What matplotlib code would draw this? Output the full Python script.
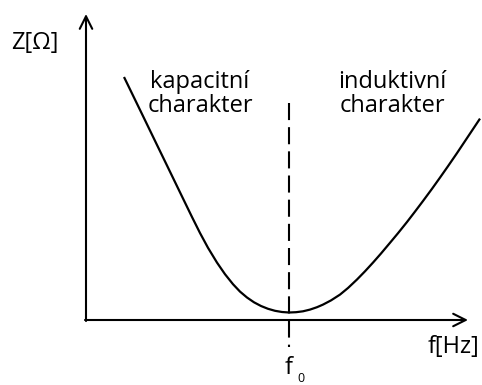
import matplotlib
matplotlib.use("Agg")
import matplotlib.pyplot as plt

# Curve (impedance vs frequency) in pixel-like units
freq = [124, 133, 142, 150, 158, 167, 175, 183, 192, 200, 208, 217, 225, 233,
        240, 247, 254, 261, 268, 275, 282, 289, 296, 303, 310, 317, 323, 331,
        340, 348, 357, 365, 373, 381, 390, 398, 407, 415, 423, 432, 440, 448,
        457, 464, 470, 476, 480]
imped = [77, 95.5, 114, 130.5, 147, 165.5, 182, 198.5, 217, 233, 247.8, 262.6,
         274.2, 284.2, 291.6, 297.5, 302.3, 306, 308.8, 310.8, 312, 312.5,
         312.2, 311.3, 309.6, 307.2, 304.6, 300.4, 294.6, 288, 279.5, 271.3,
         262.6, 253.5, 242.8, 233.2, 222, 211.6, 201, 188.8, 177.6, 166.2,
         153.1, 142.6, 133.6, 124.6, 118.6]

f0 = 289
axis_origin = (86, 320)
axis_x_end = 468
axis_y_end = 14

labels_left = "kapacitní\ncharakter"
labels_right = "induktivní\ncharakter"

FONT = "Open Sans"
FS = 17

fig = plt.figure(figsize=(4.82, 3.85), dpi=100)
ax = fig.add_axes([0, 0, 1, 1])
ax.set_xlim(0, 482)
ax.set_ylim(385, 0)
ax.axis("off")

ox, oy = axis_origin
# axes lines with open arrowheads
ax.annotate("", xy=(axis_x_end, oy), xytext=(ox - 1, oy),
            arrowprops=dict(arrowstyle="->,head_length=0.9,head_width=0.45",
                            lw=1.5, color="black", shrinkA=0, shrinkB=0))
ax.annotate("", xy=(ox, axis_y_end), xytext=(ox, oy + 1),
            arrowprops=dict(arrowstyle="->,head_length=0.9,head_width=0.45",
                            lw=1.5, color="black", shrinkA=0, shrinkB=0))

# dashed resonance line
ax.plot([f0, f0], [103, 347], color="black", lw=1.5, dashes=(8.2, 3.4))

# curve
ax.plot(freq, imped, color="black", lw=1.6, solid_joinstyle="round",
        solid_capstyle="butt")

ax.text(35, 43, "Z[Ω]", fontsize=FS, family=FONT, ha="center", va="center")
ax.text(200, 94, labels_left, fontsize=FS, family=FONT, ha="center", va="center",
        linespacing=0.95)
ax.text(392, 94, labels_right, fontsize=FS, family=FONT, ha="center", va="center",
        linespacing=0.95)
ax.text(454, 347, "f[Hz]", fontsize=FS, family=FONT, ha="center", va="center")
ax.text(289, 368, "f", fontsize=FS, family=FONT, ha="center", va="center")
ax.text(301, 378, "0", fontsize=9, family=FONT, ha="center", va="center")

fig.savefig("out.png", dpi=100)
